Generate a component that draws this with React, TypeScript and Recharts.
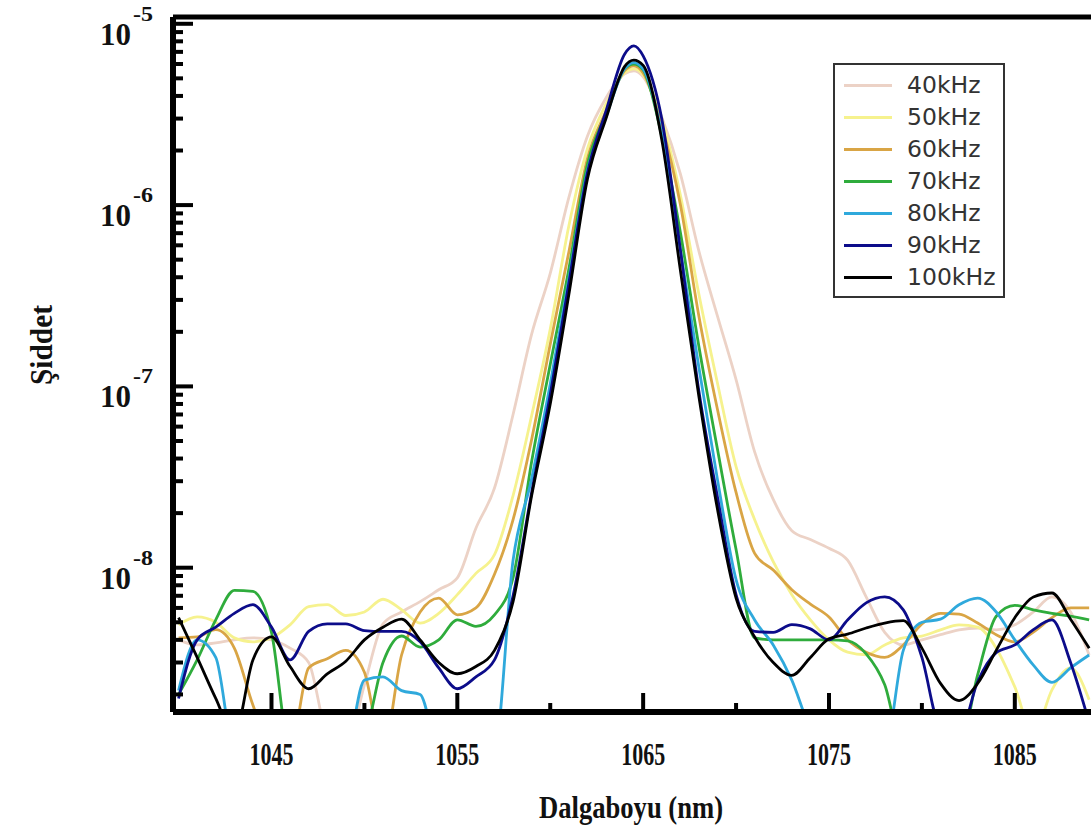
import { LineChart, Line, XAxis, YAxis, Legend, ReferenceLine, Label } from 'recharts'

// wavelength in nm, intensity
const WAVELENGTH = [
  1040, 1041, 1042, 1043, 1044, 1045, 1046, 1047, 1048, 1049,
  1050, 1051, 1052, 1053, 1054, 1055, 1056, 1057, 1058, 1059,
  1060, 1061, 1062, 1063, 1064, 1064.5, 1065, 1066, 1067, 1068,
  1069, 1070, 1071, 1072, 1073, 1074, 1075, 1076, 1077, 1078,
  1079, 1080, 1081, 1082, 1083, 1084, 1085, 1086, 1087, 1088, 1089,
]

const I_40 = [
  4.0e-9, 3.75e-9, 3.85e-9, 4.0e-9, 4.1e-9, 4.0e-9, 3.6e-9, 3.0e-9, 1.2e-9, 1.0e-9,
  2.26e-9, 4.9e-9, 5.7e-9, 6.5e-9, 7.56e-9, 8.8e-9, 1.65e-8, 2.75e-8, 7.0e-8, 1.94e-7,
  4.2e-7, 1.1e-6, 2.4e-6, 3.9e-6, 5.3e-6, 5.5e-6, 5.1e-6, 3.06e-6, 1.49e-6, 5.57e-7,
  2.44e-7, 1.09e-7, 4.35e-8, 2.38e-8, 1.6e-8, 1.43e-8, 1.28e-8, 1.1e-8, 6.9e-9, 4.4e-9,
  3.75e-9, 4.0e-9, 4.27e-9, 4.54e-9, 4.65e-9, 4.54e-9, 4.84e-9, 5.7e-9, 6.9e-9, 5.7e-9, 3.3e-9,
]
const I_50 = [
  4.84e-9, 5.35e-9, 5.0e-9, 4.1e-9, 3.9e-9, 4.1e-9, 4.84e-9, 6.1e-9, 6.25e-9, 5.45e-9,
  5.7e-9, 6.7e-9, 5.86e-9, 4.95e-9, 5.6e-9, 7.1e-9, 9.3e-9, 1.18e-8, 2.5e-8, 6.9e-8,
  2.07e-7, 7.66e-7, 2.04e-6, 3.6e-6, 5.36e-6, 5.64e-6, 5.23e-6, 3.0e-6, 1.14e-6, 3.22e-7,
  1.04e-7, 3.61e-8, 1.84e-8, 1.08e-8, 7.1e-9, 5.16e-9, 4.0e-9, 3.42e-9, 3.31e-9, 3.75e-9,
  4.1e-9, 4.2e-9, 4.54e-9, 4.84e-9, 4.7e-9, 3.6e-9, 2.2e-9, 1.2e-9, 2.12e-9, 2.8e-9, 1.87e-9,
]
const I_60 = [
  4.1e-9, 4.15e-9, 4.55e-9, 3.6e-9, 1.75e-9, 1.0e-9, 1.0e-9, 2.8e-9, 3.15e-9, 3.5e-9,
  2.65e-9, 1.0e-9, 3.3e-9, 5.7e-9, 6.8e-9, 5.5e-9, 6.0e-9, 9.2e-9, 1.84e-8, 5.1e-8,
  1.71e-7, 5.5e-7, 1.8e-6, 3.3e-6, 5.5e-6, 5.86e-6, 5.36e-6, 2.75e-6, 1.01e-6, 2.44e-7,
  7.46e-8, 2.6e-8, 1.2e-8, 9.7e-9, 7.56e-9, 6.3e-9, 5.35e-9, 4.0e-9, 3.42e-9, 3.2e-9,
  3.75e-9, 4.9e-9, 5.6e-9, 5.55e-9, 4.95e-9, 4.27e-9, 3.9e-9, 4.42e-9, 5.3e-9, 6.0e-9, 6.0e-9,
]
const I_70 = [
  2.0e-9, 3.1e-9, 5.16e-9, 7.5e-9, 7.4e-9, 4.4e-9, 1.0e-9, 1.0e-9, 1.0e-9, 1.0e-9,
  1.2e-9, 3.0e-9, 4.2e-9, 3.65e-9, 4.0e-9, 5.16e-9, 4.75e-9, 5.5e-9, 8.8e-9, 3.85e-8,
  1.32e-7, 4.43e-7, 1.68e-6, 3.18e-6, 5.64e-6, 6.0e-6, 5.57e-6, 2.4e-6, 7.1e-7, 1.66e-7,
  4.5e-8, 1.26e-8, 4.1e-9, 4.0e-9, 4.0e-9, 4.0e-9, 4.0e-9, 3.95e-9, 3.35e-9, 2.26e-9,
  1.0e-9, 1.0e-9, 1.0e-9, 1.0e-9, 2.56e-9, 5.4e-9, 6.2e-9, 5.86e-9, 5.6e-9, 5.4e-9, 5.16e-9,
]
const I_80 = [
  2.1e-9, 4.0e-9, 3.2e-9, 1.0e-9, 1.0e-9, 1.0e-9, 1.0e-9, 1.0e-9, 1.0e-9, 1.0e-9,
  2.4e-9, 2.5e-9, 2.1e-9, 2.0e-9, 1.0e-9, 1.0e-9, 1.0e-9, 1.0e-9, 1.1e-8, 3.1e-8,
  1.03e-7, 3.9e-7, 1.54e-6, 3.06e-6, 5.64e-6, 6.1e-6, 5.64e-6, 2.47e-6, 5.7e-7, 1.27e-7,
  3.06e-8, 8.6e-9, 5.15e-9, 3.75e-9, 2.4e-9, 1.3e-9, 1.0e-9, 1.0e-9, 1.0e-9, 1.0e-9,
  3.5e-9, 5.0e-9, 5.2e-9, 6.25e-9, 6.8e-9, 5.7e-9, 4.0e-9, 2.9e-9, 2.33e-9, 2.8e-9, 3.3e-9,
]
const I_90 = [
  1.9e-9, 4.0e-9, 4.7e-9, 5.6e-9, 6.25e-9, 4.7e-9, 3.1e-9, 4.45e-9, 4.9e-9, 4.9e-9,
  4.5e-9, 4.45e-9, 4.45e-9, 3.9e-9, 2.8e-9, 2.15e-9, 2.5e-9, 3.1e-9, 7.0e-9, 2.6e-8,
  9.0e-8, 3.7e-7, 1.5e-6, 3.3e-6, 6.8e-6, 7.56e-6, 6.65e-6, 3.0e-6, 5.7e-7, 9.4e-8,
  2.45e-8, 7.1e-9, 4.45e-9, 4.4e-9, 4.85e-9, 4.6e-9, 4.0e-9, 5.15e-9, 6.4e-9, 6.9e-9,
  5.85e-9, 3.2e-9, 1.3e-9, 1.2e-9, 2.35e-9, 3.4e-9, 3.75e-9, 4.55e-9, 5.15e-9, 3.0e-9, 1.4e-9,
]
const I_100 = [
  5.3e-9, 3.2e-9, 1.9e-9, 1.2e-9, 3.1e-9, 4.15e-9, 2.85e-9, 2.15e-9, 2.6e-9, 3.05e-9,
  4.0e-9, 4.7e-9, 5.2e-9, 4.0e-9, 3.0e-9, 2.6e-9, 2.85e-9, 3.5e-9, 6.5e-9, 2.5e-8,
  8.0e-8, 3.2e-7, 1.39e-6, 3.0e-6, 5.8e-6, 6.3e-6, 5.9e-6, 2.3e-6, 4.4e-7, 8.8e-8,
  2.1e-8, 6.8e-9, 4.15e-9, 3.0e-9, 2.55e-9, 3.2e-9, 4.05e-9, 4.3e-9, 4.65e-9, 4.95e-9,
  5.1e-9, 3.6e-9, 2.3e-9, 1.85e-9, 2.3e-9, 3.5e-9, 5.3e-9, 6.9e-9, 7.25e-9, 5.2e-9, 3.6e-9,
]

const SERIES = [
  { key: 'f40', name: '40kHz', color: '#ecd2c6', values: I_40 },
  { key: 'f50', name: '50kHz', color: '#f6f28e', values: I_50 },
  { key: 'f60', name: '60kHz', color: '#d9a545', values: I_60 },
  { key: 'f70', name: '70kHz', color: '#2fac3c', values: I_70 },
  { key: 'f80', name: '80kHz', color: '#2fa9dc', values: I_80 },
  { key: 'f90', name: '90kHz', color: '#0c0c8a', values: I_90 },
  { key: 'f100', name: '100kHz', color: '#000000', values: I_100 },
]

const X_TICKS = [1045, 1050, 1055, 1060, 1065, 1070, 1075, 1080, 1085]
const X_LABELED = [1045, 1055, 1065, 1075, 1085]
const Y_DECADES = [1e-9, 1e-8, 1e-7, 1e-6, 1e-5]
const Y_MULTIPLIERS = [1, 2, 3, 4, 5, 6, 7, 8, 9]
const X_DOMAIN: [number, number] = [1039.7, 1089.1]
const Y_DOMAIN: [number, number] = [1.6e-9, 1.09e-5]

const Y_TICKS = Y_DECADES.flatMap((d) => Y_MULTIPLIERS.map((m) => m * d)).filter(
  (v) => v >= Y_DOMAIN[0] && v <= Y_DOMAIN[1]
)

const rows = WAVELENGTH.map((nm, i) => {
  const row: Record<string, number> = { nm }
  for (const s of SERIES) row[s.key] = s.values[i]
  return row
})

const PLOT_LEFT = 173
const PLOT_BOTTOM = 712
const SERIF = '"Liberation Serif", "Times New Roman", serif'

function XTick({ x, payload }: any) {
  const major = X_LABELED.includes(payload.value)
  return (
    <g>
      <line x1={x} x2={x} y1={PLOT_BOTTOM} y2={PLOT_BOTTOM - (major ? 19 : 9)} stroke="#000" strokeWidth={4} />
      {major && (
        <text
          x={x}
          y={PLOT_BOTTOM + 53}
          textAnchor="middle"
          fontFamily={SERIF}
          fontWeight="bold"
          fontSize={31}
          textLength={44}
          lengthAdjust="spacingAndGlyphs"
          fill="#111"
        >
          {payload.value}
        </text>
      )}
    </g>
  )
}

function YTick({ y, payload }: any) {
  const lg = Math.log10(payload.value)
  const exp = Math.round(lg)
  const major = Math.abs(lg - exp) < 1e-6
  return (
    <g>
      <line x1={PLOT_LEFT} x2={PLOT_LEFT + (major ? 20 : 10)} y1={y} y2={y} stroke="#000" strokeWidth={4} />
      {major && (
        <g fontFamily={SERIF} fontWeight="bold" fill="#111">
          <text x={100} y={y + 21} fontSize={31} textLength={31} lengthAdjust="spacingAndGlyphs">10</text>
          <text x={133} y={y - 3} fontSize={20} textLength={20} lengthAdjust="spacingAndGlyphs">{'-' + Math.abs(exp)}</text>
        </g>
      )}
    </g>
  )
}

function LegendBox() {
  return (
    <div style={{ position: 'relative', width: 172, height: 235, border: '2px solid #333', boxSizing: 'border-box', background: '#fff' }}>
      {SERIES.map((s, i) => (
        <div key={s.key} style={{ position: 'absolute', left: 0, top: 4 + 32 * i, height: 32, width: '100%' }}>
          <div style={{ position: 'absolute', left: 9, top: 15, width: 48, height: 3, background: s.color }} />
          <div style={{ position: 'absolute', left: 72, top: 1, fontFamily: '"DejaVu Sans", Verdana, sans-serif', fontSize: 23.5, color: '#333', lineHeight: '30px' }}>
            {s.name}
          </div>
        </div>
      ))}
    </div>
  )
}

export default function App() {
  return (
    <div style={{ position: 'absolute', left: 0, top: 0, background: '#fff' }}>
      <LineChart width={1092} height={835} data={rows} margin={{ top: 17, right: 1, bottom: 0, left: 0 }}>
        <XAxis
          dataKey="nm"
          type="number"
          domain={X_DOMAIN}
          allowDataOverflow
          ticks={X_TICKS}
          interval={0}
          height={123}
          tickLine={false}
          axisLine={{ stroke: '#000', strokeWidth: 6 }}
          tick={(p: any) => <XTick {...p} />}
        >
          <Label
            content={() => (
              <text
                x={631}
                y={818}
                textAnchor="middle"
                fontFamily={SERIF}
                fontWeight="bold"
                fontSize={31}
                textLength={184}
                lengthAdjust="spacingAndGlyphs"
                fill="#111"
              >
                Dalgaboyu (nm)
              </text>
            )}
          />
        </XAxis>
        <YAxis
          type="number"
          scale="log"
          domain={Y_DOMAIN}
          allowDataOverflow
          ticks={Y_TICKS}
          interval={0}
          width={173}
          tickLine={false}
          axisLine={{ stroke: '#000', strokeWidth: 6 }}
          tick={(p: any) => <YTick {...p} />}
        >
          <Label
            content={() => (
              <text
                x={52}
                y={345}
                transform="rotate(-90 52 345)"
                textAnchor="middle"
                fontFamily={SERIF}
                fontWeight="bold"
                fontSize={31}
                textLength={80}
                lengthAdjust="spacingAndGlyphs"
                fill="#111"
              >
                Şiddet
              </text>
            )}
          />
        </YAxis>
        <ReferenceLine y={Y_DOMAIN[1]} stroke="#000" strokeWidth={5} />
        {SERIES.map((s) => (
          <Line
            key={s.key}
            dataKey={s.key}
            name={s.name}
            type="monotone"
            stroke={s.color}
            strokeWidth={2.8}
            dot={false}
            isAnimationActive={false}
          />
        ))}
        <Legend
          layout="vertical"
          align="center"
          verticalAlign="middle"
          wrapperStyle={{ left: 833, top: 63, width: 172, height: 235 }}
          content={() => <LegendBox />}
        />
      </LineChart>
    </div>
  )
}
